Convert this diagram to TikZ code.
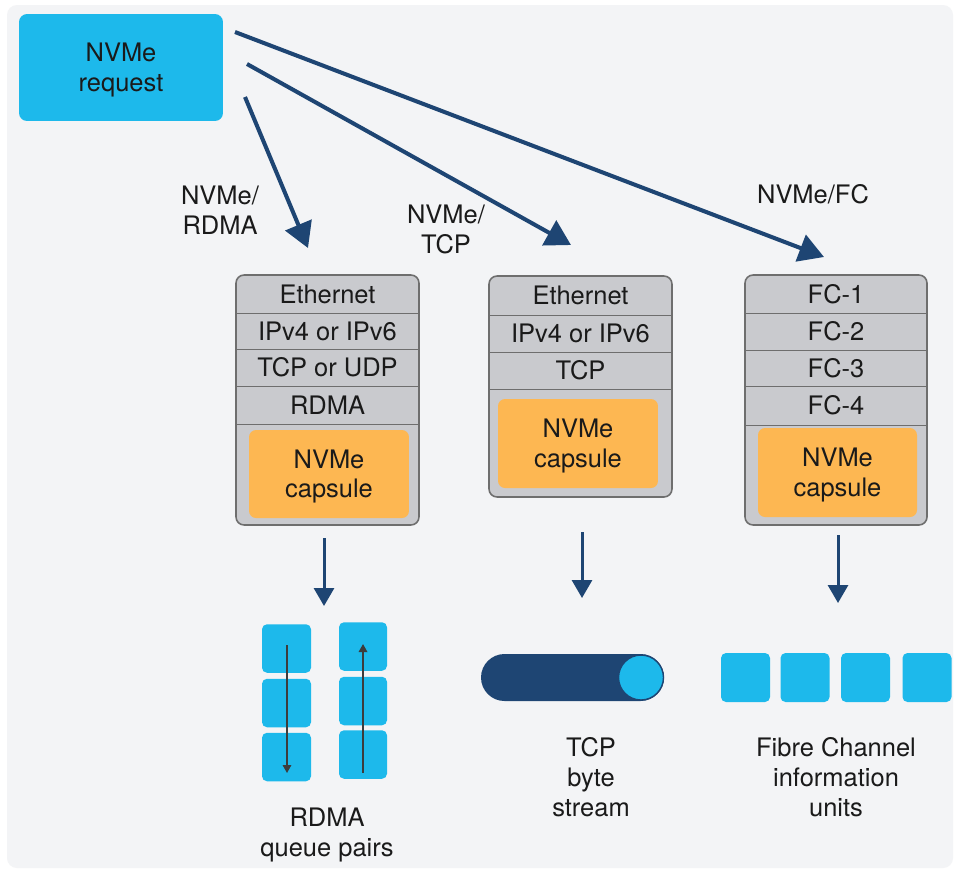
\documentclass[tikz,border=0pt]{standalone}
\usepackage{fontspec}
\setmainfont{TeX Gyre Heros}
\usetikzlibrary{arrows.meta}

\definecolor{panel}{HTML}{F3F4F6}
\definecolor{reqcyan}{HTML}{1DB9EB}
\definecolor{navy}{HTML}{1E4573}
\definecolor{layergray}{HTML}{C9CACE}
\definecolor{edgegray}{HTML}{6E6E6E}
\definecolor{capsorange}{HTML}{FDB752}
\definecolor{inkgray}{HTML}{3C3C3C}
\definecolor{txt}{HTML}{1A1A1A}

\begin{document}
\begin{tikzpicture}[x=0.02cm, y=-0.02cm,
  txtfont/.style={font=\fontsize{14.5pt}{17pt}\selectfont, text=txt, align=center},
  reqbox/.style={txtfont, fill=reqcyan, rounded corners=0.16cm, inner sep=0pt},
  stackbox/.style={draw=edgegray, line width=0.9pt, fill=layergray, rounded corners=0.16cm, inner sep=0pt},
  layer/.style={txtfont, inner sep=0pt, minimum width=3.66cm},
  sepline/.style={draw=edgegray, line width=0.9pt},
  capsule/.style={txtfont, fill=capsorange, rounded corners=0.14cm, inner sep=0pt},
  tile/.style={fill=reqcyan, rounded corners=0.1cm, inner sep=0pt, minimum width=0.98cm, minimum height=0.97cm},
  caption/.style={txtfont, inner sep=0pt},
  textdown/.style={yshift=-0.05cm},
  bigarrow/.style={navy, line width=2.3pt, -{Triangle[length=0.5cm, width=0.56cm]}},
  downarrow/.style={navy, line width=1.7pt, -{Triangle[length=0.36cm, width=0.4cm]}},
  thinarrow/.style={inkgray, line width=0.95pt, -{Triangle[length=0.16cm, width=0.17cm]}}
]
\useasboundingbox (0,0) rectangle (955,870);
\fill[white] (0,0) rectangle (955,870);
\fill[panel, rounded corners=0.2cm] (7,5) rectangle (953,868);

% request
\node[reqbox, minimum width=4.08cm, minimum height=2.14cm] (req) at (121,67.5) {};
\node[caption, textdown] (reqtext) at (req.center) {NVMe\\request};

% NVMe/RDMA stack
\node[stackbox, minimum width=3.66cm, minimum height=5cm] (s1) at (327.5,400) {};
\node[layer, minimum height=0.76cm] (s1a) at (327.5,294) {Ethernet};
\node[layer, minimum height=0.72cm] (s1b) at (327.5,331) {IPv4 or IPv6};
\node[layer, minimum height=0.74cm] (s1c) at (327.5,367.5) {TCP or UDP};
\node[layer, minimum height=0.76cm] (s1d) at (327.5,405) {RDMA};
\foreach \r in {s1a,s1b,s1c,s1d} \draw[sepline] (\r.south west) -- (\r.south east);
\node[capsule, minimum width=3.2cm, minimum height=1.76cm] (s1cap) at (329,474) {};
\node[caption, textdown] (s1captext) at (s1cap.center) {NVMe\\capsule};

% NVMe/TCP stack
\node[stackbox, minimum width=3.66cm, minimum height=4.42cm] (s2) at (580.5,386.5) {};
\node[layer, minimum height=0.78cm] (s2a) at (580.5,295.5) {Ethernet};
\node[layer, minimum height=0.74cm] (s2b) at (580.5,333.5) {IPv4 or IPv6};
\node[layer, minimum height=0.74cm] (s2c) at (580.5,370.5) {TCP};
\foreach \r in {s2a,s2b,s2c} \draw[sepline] (\r.south west) -- (\r.south east);
\node[capsule, minimum width=3.2cm, minimum height=1.78cm] (s2cap) at (578,443.5) {};
\node[caption, textdown] (s2captext) at (s2cap.center) {NVMe\\capsule};

% NVMe/FC stack
\node[stackbox, minimum width=3.64cm, minimum height=5cm] (s3) at (836,400) {};
\node[layer, minimum width=3.64cm, minimum height=0.76cm] (s3a) at (836,294) {FC-1};
\node[layer, minimum width=3.64cm, minimum height=0.74cm] (s3b) at (836,331.5) {FC-2};
\node[layer, minimum width=3.64cm, minimum height=0.72cm] (s3c) at (836,368) {FC-3};
\node[layer, minimum width=3.64cm, minimum height=0.78cm] (s3d) at (836,405.5) {FC-4};
\foreach \r in {s3a,s3b,s3c,s3d} \draw[sepline] (\r.south west) -- (\r.south east);
\node[capsule, minimum width=3.18cm, minimum height=1.78cm] (s3cap) at (837.5,472.5) {};
\node[caption, textdown] (s3captext) at (s3cap.center) {NVMe\\capsule};

% transport arrows from the request
\coordinate (rdmaFrom) at (245,97);  \coordinate (rdmaTo) at (308,248);
\coordinate (tcpFrom) at (247,64);   \coordinate (tcpTo) at (571,245);
\coordinate (fcFrom) at (235,32);    \coordinate (fcTo) at (824,257);
\draw[bigarrow] (rdmaFrom) -- (rdmaTo);
\draw[bigarrow] (tcpFrom) -- (tcpTo);
\draw[bigarrow] (fcFrom) -- (fcTo);
\node[caption] (lblrdma) at (220,210) {NVMe/\\RDMA};
\node[caption] (lbltcp) at (446,229) {NVMe/\\TCP};
\node[caption] (lblfc) at (813,194) {NVMe/FC};

% arrows down to the transport units
\coordinate (d1a) at (324,538); \coordinate (d1b) at (324,606);
\coordinate (d2a) at (582,532); \coordinate (d2b) at (582,598);
\coordinate (d3a) at (838,535); \coordinate (d3b) at (838,603);
\draw[downarrow] (d1a) -- (d1b);
\draw[downarrow] (d2a) -- (d2b);
\draw[downarrow] (d3a) -- (d3b);

% RDMA queue pairs
\node[tile] (qa1) at (286.5,648.5) {};
\node[tile] (qa2) at (286.5,703) {};
\node[tile] (qa3) at (286.5,757) {};
\node[tile, minimum width=0.96cm] (qb1) at (363,646.5) {};
\node[tile, minimum width=0.96cm] (qb2) at (363,701) {};
\node[tile, minimum width=0.96cm] (qb3) at (363,754.5) {};
\coordinate (qaTop) at (287,645); \coordinate (qaBot) at (287,773);
\coordinate (qbBot) at (363,773); \coordinate (qbTop) at (363,644);
\draw[thinarrow] (qaTop) -- (qaBot);
\draw[thinarrow] (qbBot) -- (qbTop);
\node[caption, anchor=north] (capqp) at (327,808) {RDMA\\queue pairs};

% TCP byte stream
\fill[navy, rounded corners=0.47cm] (481,654) rectangle (664,701);
\draw[navy, fill=reqcyan, line width=0.8pt] (641,677.5) circle[radius=0.45cm];
\node[caption, anchor=north] (captcp) at (591,737) {TCP\\byte\\stream};

% Fibre Channel information units
\node[tile, minimum height=0.98cm] (iu1) at (745.5,677.5) {};
\node[tile, minimum height=0.98cm] (iu2) at (805,677.5) {};
\node[tile, minimum height=0.98cm] (iu3) at (865.5,677.5) {};
\node[tile, minimum height=0.98cm] (iu4) at (927,677.5) {};
\node[caption, anchor=north] (capfc) at (836,737) {Fibre Channel\\information\\units};
\end{tikzpicture}
\end{document}
